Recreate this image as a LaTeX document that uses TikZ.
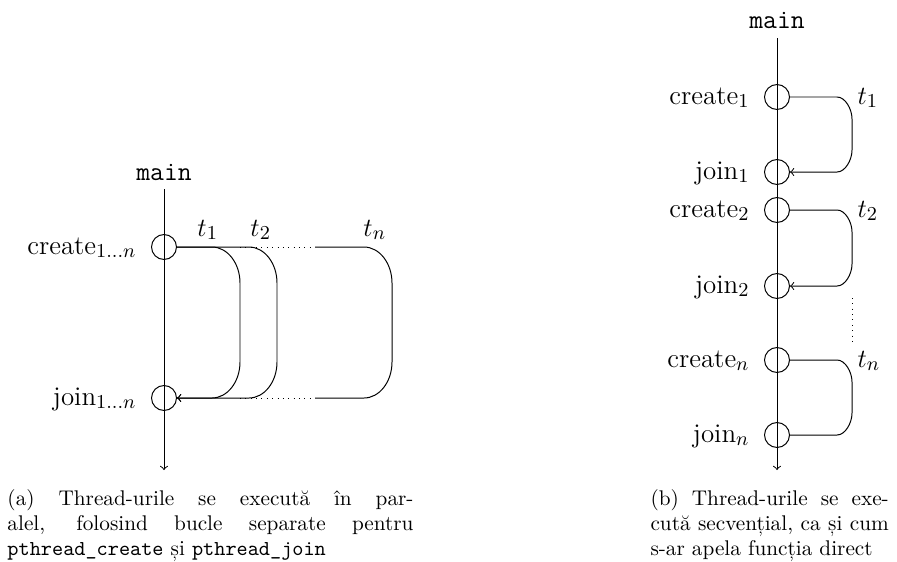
\documentclass[tikz,border=0pt]{standalone}
\usetikzlibrary{calc}
\newcommand\diagfont{\fontsize{12.3}{14}\selectfont}
\newcommand\capfont{\fontsize{9.7}{11.4}\selectfont}
\tikzset{
  px/.style={x=0.4566pt,y=-0.4566pt},
  evt/.style={circle,draw,minimum size=11.4pt,inner sep=0pt},
  lbl/.style={font=\diagfont,inner sep=0pt,anchor=base east},
  tlbl/.style={font=\diagfont,inner sep=0pt,anchor=base west},
  mainlbl/.style={font=\diagfont\ttfamily,inner sep=0pt,anchor=base},
  thr/.style={line width=0.45pt},
  contdots/.style={dotted,line width=0.45pt},
  capbox/.style={font=\capfont,inner sep=0pt,align=justify,anchor=north west},
}
\begin{document}
\begin{tikzpicture}[px,line width=0.45pt]
\useasboundingbox (0,0) rectangle (897,561);
% ---------- left diagram ----------
\node[mainlbl] (mainA) at (164,180) {main};
\coordinate (topA) at (164,189);
\coordinate (botA) at (164,470);
\draw[->] (topA) -- (botA);
\node[evt] (cA) at (164,247) {};
\node[evt] (jA) at (164,398) {};
\node[lbl] (lcA) at ($(cA.west)+(-14,7)$) {create$_{1\ldots n}$};
\node[lbl] (ljA) at ($(jA.west)+(-14,7)$) {join$_{1\ldots n}$};
\draw[thr,->] (cA.east) -- (212,247) .. controls (227.4,247) and (240,263.2) .. (240,283)
   -- (240,362) .. controls (240,381.8) and (227.4,398) .. (212,398) -- (jA.east);
\draw[thr,->] (cA.east) -- (249,247) .. controls (264.4,247) and (277,263.2) .. (277,283)
   -- (277,362) .. controls (277,381.8) and (264.4,398) .. (249,398) -- (jA.east);
\coordinate (tnS) at (315,247);
\coordinate (tnE) at (315,398);
\coordinate (dS) at (240,247);
\coordinate (dE) at (240,398);
\draw[thr] (tnS) -- (364,247) .. controls (379.4,247) and (392,263.2) .. (392,283)
   -- (392,362) .. controls (392,381.8) and (379.4,398) .. (364,398) -- (tnE);
\draw[contdots] (dS) -- (tnS);
\draw[contdots] (dE) -- (tnE);
\node[tlbl] (t1A) at (197,236) {$t_1$};
\node[tlbl] (t2A) at (250,236) {$t_2$};
\node[tlbl] (tnA) at (363,236) {$t_n$};
% ---------- right diagram ----------
\node[mainlbl] (mainB) at (777,28) {main};
\coordinate (topB) at (777,38);
\coordinate (botB) at (777,470);
\draw[->] (topB) -- (botB);
\node[evt] (c1) at (777,97) {};
\node[evt] (j1) at (777,172) {};
\node[evt] (c2) at (777,210) {};
\node[evt] (j2) at (777,286) {};
\node[evt] (cn) at (777,360) {};
\node[evt] (jn) at (777,435) {};
\node[lbl] at ($(c1.west)+(-14,7)$) {create$_1$};
\node[lbl] at ($(j1.west)+(-14,7)$) {join$_1$};
\node[lbl] at ($(c2.west)+(-14,7)$) {create$_2$};
\node[lbl] at ($(j2.west)+(-14,7)$) {join$_2$};
\node[lbl] at ($(cn.west)+(-14,7)$) {create$_n$};
\node[lbl] at ($(jn.west)+(-14,7)$) {join$_n$};
\draw[thr,->] (c1.east) -- (837,97) .. controls (845.3,97) and (852,109.1) .. (852,119)
   -- (852,150) .. controls (852,159.9) and (845.3,172) .. (837,172) -- (j1.east);
\draw[thr,->] (c2.east) -- (837,210) .. controls (845.3,210) and (852,222.1) .. (852,232)
   -- (852,264) .. controls (852,273.9) and (845.3,286) .. (837,286) -- (j2.east);
\draw[thr] (cn.east) -- (837,360) .. controls (845.3,360) and (852,372.1) .. (852,382)
   -- (852,413) .. controls (852,422.9) and (845.3,435) .. (837,435) -- (jn.east);
\coordinate (vdS) at (852,298);
\coordinate (vdE) at (852,345);
\draw[contdots] (vdS) -- (vdE);
\node[tlbl] at (857,104) {$t_1$};
\node[tlbl] at (857,217) {$t_2$};
\node[tlbl] at (857,367) {$t_n$};
% ---------- captions ----------
\node[capbox,text width=185.4pt] (capA) at (7,489)
  {(a) Thread-urile se execută în par-\linebreak
   alel, folosind bucle separate pentru\linebreak
   \texttt{pthread\_create} și \texttt{pthread\_join}};
\node[capbox,text width=108.8pt] (capB) at (650,489)
  {(b) Thread-urile se exe-\linebreak
   cută secvențial, ca și cum\linebreak
   s-ar apela funcția direct};
\end{tikzpicture}
\end{document}
